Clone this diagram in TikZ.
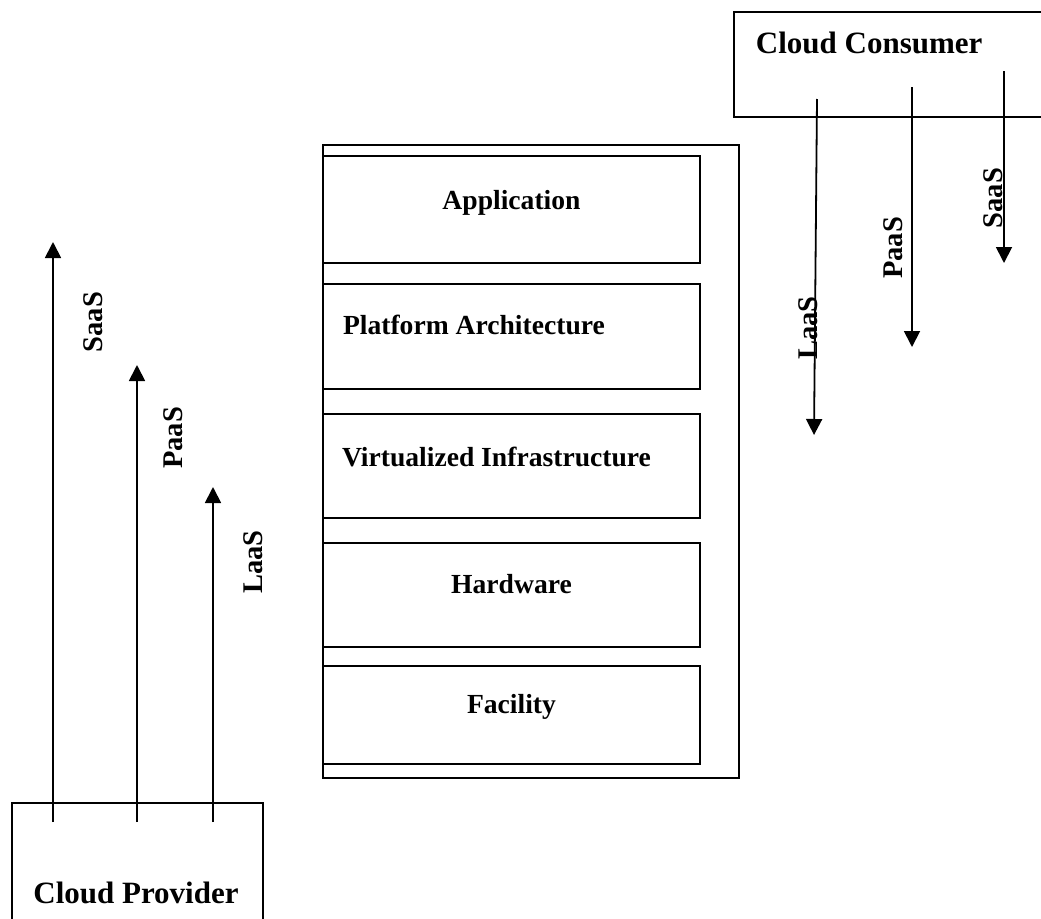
\documentclass[tikz,border=0pt]{standalone}
\usepackage{fontspec}
\setmainfont{Liberation Serif}
\usetikzlibrary{positioning}
\usetikzlibrary{arrows.meta}

\begin{document}
\begin{tikzpicture}[x=1pt, y=-1pt, line width=1.8pt,
  layer/.style={draw, minimum width=377pt, inner sep=0pt},
  lbl/.style={font=\fontsize{27.6}{30}\selectfont\bfseries, inner sep=0pt},
  big/.style={font=\fontsize{31}{34}\selectfont\bfseries, inner sep=0pt},
  svc/.style={font=\fontsize{28.5}{32}\selectfont\bfseries, inner sep=0pt, rotate=90},
  flow/.style={-{Triangle[width=16pt,length=16pt]}}]

  % page size
  \useasboundingbox (0,0) rectangle (1041,918);

  % the layer stack
  \node[draw, minimum width=416pt, minimum height=633pt, inner sep=0pt] (stack) at (531,461.5) {};
  \node[layer, minimum height=107pt] (app)  at (511.5,209.5) {};
  \node[layer, minimum height=105pt] (plat) at (511.5,336.5) {};
  \node[layer, minimum height=104pt] (virt) at (511.5,466) {};
  \node[layer, minimum height=104pt] (hw)   at (511.5,595) {};
  \node[layer, minimum height=98pt]  (fac)  at (511.5,715) {};

  \node[lbl, anchor=base] (app-txt) at (app.center) {Application};
  \node[lbl, anchor=base west] (plat-txt) at ([xshift=20pt,yshift=2pt]plat.west) {Platform Architecture};
  \node[lbl, anchor=base west] (virt-txt) at ([xshift=19pt]virt.west) {Virtualized Infrastructure};
  \node[lbl, anchor=base] (hw-txt)  at ([yshift=2pt]hw.center) {Hardware};
  \node[lbl, anchor=base] (fac-txt) at ([yshift=2pt]fac.center) {Facility};

  % consumer and provider
  \node[draw, minimum width=326pt, minimum height=105pt, inner sep=0pt] (cons) at (897,64.5) {};
  \node[big, anchor=base west] (cons-txt) at (755,53) {Cloud Consumer};
  \node[draw, minimum width=251pt, minimum height=132pt, inner sep=0pt] (prov) at (137.5,869) {};
  \node[big, anchor=base] (prov-txt) at (136,903) {Cloud Provider};

  % arrow ends
  \foreach \n/\x/\y in {saas/53/242, paas/137/365, laas/213/487} {
    \coordinate (prov-\n-a) at (\x,822);
    \coordinate (prov-\n-b) at (\x,\y);
  }
  \coordinate (cons-laas-a) at (817,99);
  \coordinate (cons-laas-b) at (814,435);
  \coordinate (cons-paas-a) at (912,87);
  \coordinate (cons-paas-b) at (912,347);
  \coordinate (cons-saas-a) at (1004,71);
  \coordinate (cons-saas-b) at (1004,263);

  \draw[flow] (prov-saas-a) -- (prov-saas-b);
  \draw[flow] (prov-paas-a) -- (prov-paas-b);
  \draw[flow] (prov-laas-a) -- (prov-laas-b);
  \draw[flow] (cons-laas-a) -- (cons-laas-b);
  \draw[flow] (cons-paas-a) -- (cons-paas-b);
  \draw[flow] (cons-saas-a) -- (cons-saas-b);

  \node[svc] (prov-saas-txt) at (93,322) {SaaS};
  \node[svc] (prov-paas-txt) at (173,438) {PaaS};
  \node[svc] (prov-laas-txt) at (253,562) {LaaS};
  \node[svc] (cons-laas-txt) at (808,328) {LaaS};
  \node[svc] (cons-paas-txt) at (893,248) {PaaS};
  \node[svc] (cons-saas-txt) at (993,198) {SaaS};
\end{tikzpicture}
\end{document}
